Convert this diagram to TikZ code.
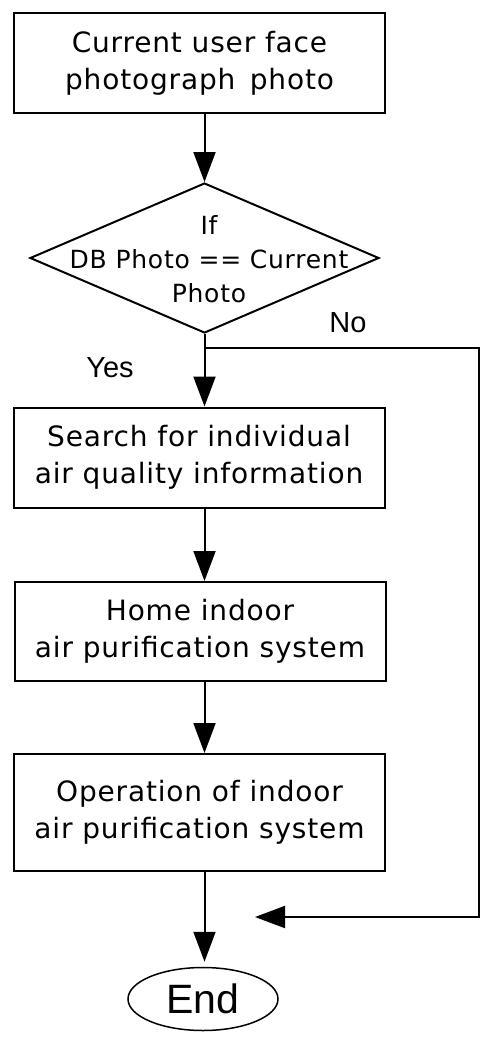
\documentclass[tikz,border=0pt]{standalone}
\usepackage{fontspec}
\setmainfont{DejaVu Sans}[LetterSpace=3]
\newfontfamily\lblfont{Liberation Sans}
\usetikzlibrary{arrows.meta,shapes.geometric}
\tikzset{
  proc/.style={draw, line width=2pt, rectangle, minimum width=371pt, minimum height=100pt,
    inner sep=0pt, align=center, font=\fontsize{28}{37}\selectfont},
  arr/.style={line width=2pt, -{Triangle[length=30pt,width=22pt]}},
  lbl/.style={font=\lblfont\fontsize{29}{30}\selectfont, inner sep=0pt},
}
\begin{document}
\begin{tikzpicture}[x=1pt,y=-1pt]
\useasboundingbox (0,0) rectangle (492,1044);
\node[proc] (b1) at (199.5,63) {Current user face\\photograph\, photo};
\node[draw, line width=2pt, diamond, minimum width=349pt, minimum height=150pt, inner sep=0pt] (d) at (204.5,258) {};
\node[align=center, font=\fontsize{25}{34}\selectfont, inner sep=0pt] (dt) at (209,259) {If\\DB Photo == Current\\Photo};
\node[proc] (b2) at (199,457.5) {Search for individual\\air quality information};
\node[proc, minimum height=99pt] (b3) at (200,631.5) {Home indoor\\air purification system};
\node[proc, minimum height=117pt] (b4) at (199.5,812.5) {Operation of indoor\\air purification system};
\node[draw, line width=1.5pt, ellipse, minimum width=150pt, minimum height=63pt, inner sep=0pt,
  font=\lblfont\fontsize{41}{41}\selectfont] (e) at (203,999) {End};
\node[lbl] (no) at (348,323) {No};
\node[lbl] (yes) at (110,368) {Yes};
\coordinate (noR) at (479,348);
\coordinate (nofree) at (255,917);
\draw[arr] (b1.south -| d.north) -- (d.north);
\draw[arr] (d.south) -- (d.south |- b2.north);
\draw[arr] (d.south) |- (noR) |- (nofree);
\draw[arr] (d.south |- b2.south) -- (d.south |- b3.north);
\draw[arr] (d.south |- b3.south) -- (d.south |- b4.north);
\draw[arr, shorten >=5pt] (d.south |- b4.south) -- (d.south |- e.north);
\end{tikzpicture}
\end{document}
